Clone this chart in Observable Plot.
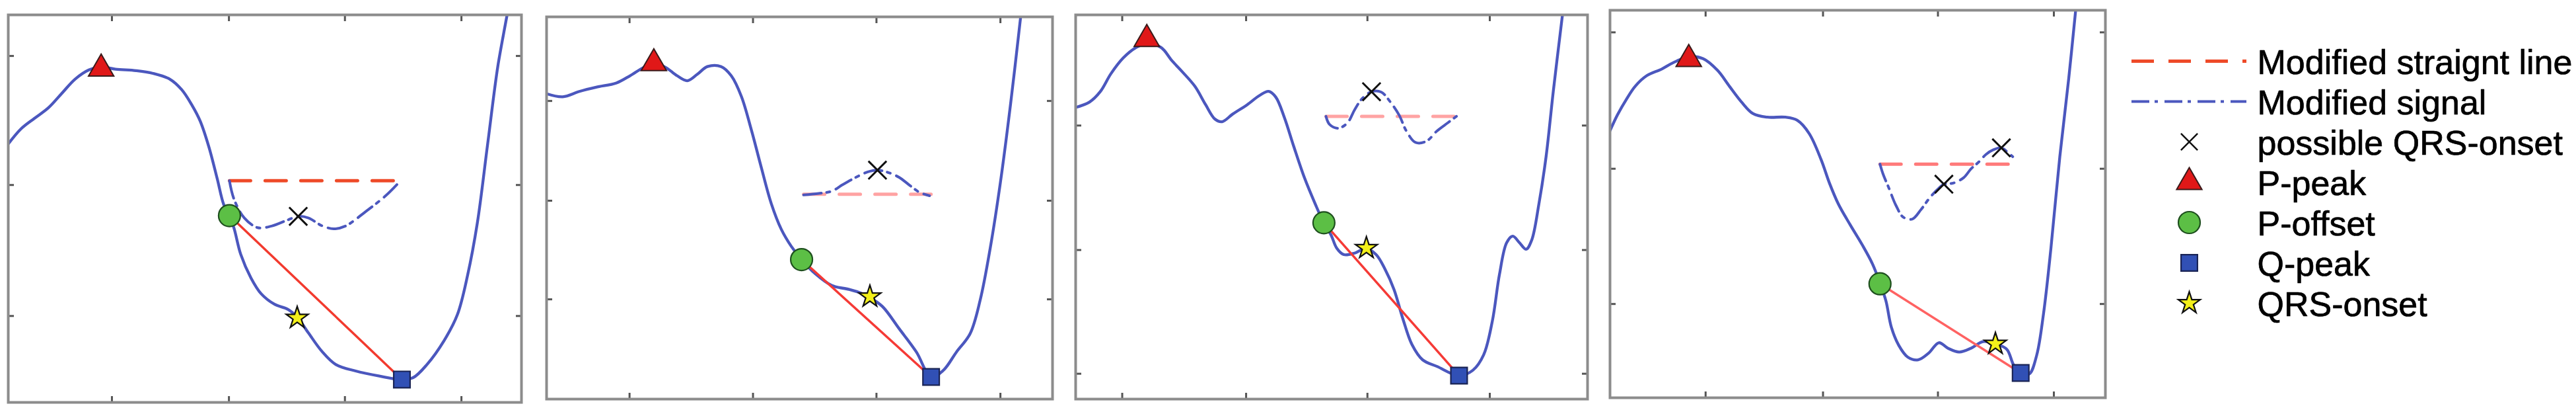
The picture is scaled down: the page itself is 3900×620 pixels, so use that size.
<!DOCTYPE html>
<html><head><meta charset="utf-8">
<script src="https://cdn.jsdelivr.net/npm/d3@7"></script>
<script src="https://cdn.jsdelivr.net/npm/@observablehq/plot@0.6"></script>
<style>
html,body{margin:0;padding:0;background:#fff;}
#root{position:relative;width:3900px;height:620px;overflow:hidden;background:#fff;}
</style></head><body><div id="root"></div>
<script>
// ---------- DATA (normalised 0–100 in each panel: x = sample position, y = amplitude) ----------
const p1Signal = [[0,66.7],[2.5,70.6],[5.1,73.3],[7.8,76.0],[10.4,79.7],[13.0,83.4],[15.7,85.8],[18.1,86.6],[20.9,86.0],[24.9,85.6],[28.2,84.9],[31.5,83.4],[33.8,80.7],[35.8,76.7],[37.4,72.6],[39.1,65.9],[40.7,57.8],[42.0,51.0],[43.1,48.2],[44.0,44.9],[45.3,38.2],[47.3,32.1],[49.3,28.0],[51.9,25.3],[54.5,24.0],[56.3,22.0],[58.5,17.9],[61.1,13.2],[63.8,9.8],[67.7,8.1],[72.3,6.8],[76.6,5.9],[78.9,6.4],[81.6,9.8],[84.9,15.9],[87.5,22.6],[89.5,32.8],[91.4,46.3],[93.4,66.6],[95.4,86.8],[97.2,100]];
const p1Straight = [[43.1,57.2],[76.3,57.2]];
const p1Modified = [[43.1,57.2],[44.0,52.4],[46.0,47.6],[48.6,45.1],[51.3,45.5],[54.5,47.1],[56.5,48.0],[58.5,47.6],[61.1,45.6],[63.4,44.8],[65.7,45.5],[69.7,49.3],[73.6,53.4],[76.3,57.0]];
const p1PPeak = [18.1,86.1], p1POffset = [43.1,48.2], p1QPeak = [76.7,5.9], p1QrsOnset = [56.3,21.8];
const p1Possible = [[56.5,48.0]];
const p1XTicks = [20.2,43.0,65.6,88.3], p1YTicks = [22.3,56.1,89.4];

const p2Signal = [[0,79.9],[3.2,79.1],[6.5,80.5],[9.8,81.6],[13.8,82.7],[16.5,84.6],[19.2,86.8],[21.2,87.9],[23.5,86.8],[25.8,84.6],[27.8,83.3],[29.8,85.0],[31.8,87.0],[34.5,87.0],[36.5,84.6],[38.5,79.2],[40.5,70.3],[42.4,60.8],[44.4,51.2],[46.4,44.4],[48.4,39.9],[50.4,36.5],[53.1,32.8],[56.4,29.7],[59.8,28.7],[62.4,27.6],[63.9,26.6],[66.4,24.2],[69.7,18.4],[73.1,12.3],[76.0,5.8],[78.4,7.5],[81.0,12.3],[83.7,17.1],[85.7,25.9],[87.7,39.6],[89.7,56.7],[91.7,77.1],[93.7,100]];
const p2Straight = [[50.8,53.6],[76.0,53.6]];
const p2Modified = [[50.8,53.4],[53.8,53.8],[56.4,54.4],[58.4,56.0],[61.1,58.0],[63.4,59.4],[65.4,59.9],[67.7,59.2],[69.7,58.0],[71.7,56.0],[73.7,54.1],[75.7,53.2]];
const p2PPeak = [21.2,87.85], p2POffset = [50.4,36.5], p2QPeak = [76.0,5.8], p2QrsOnset = [63.9,26.8];
const p2Possible = [[65.4,59.9]];
const p2XTicks = [16.4,40.8,65.2,89.7], p2YTicks = [26.1,51.9,78.0];

const p3Signal = [[0,75.9],[2.7,77.3],[4.8,80.0],[6.9,84.7],[9.3,88.8],[11.8,91.5],[13.9,92.6],[16.7,91.5],[18.8,88.1],[20.9,85.1],[23.3,81.4],[25.4,76.6],[27.2,72.9],[28.6,72.2],[30.7,74.2],[33.5,76.6],[35.9,79.0],[37.7,80.1],[39.1,78.6],[40.8,73.2],[42.6,65.8],[44.7,57.6],[46.8,50.8],[48.5,45.8],[49.9,42.7],[51.0,39.3],[52.4,37.6],[54.5,38.0],[56.7,39.2],[58.7,37.6],[60.4,33.9],[62.2,28.5],[63.9,21.0],[65.7,14.2],[67.8,10.2],[70.6,8.5],[74.9,6.1],[77.6,7.5],[79.7,11.5],[81.4,20.3],[82.8,32.5],[84.2,40.7],[85.4,42.4],[86.7,40.7],[88.0,39.0],[89.1,41.4],[90.5,50.8],[91.9,63.1],[93.3,80.0],[95.1,100]];
const p3Straight = [[48.9,73.6],[74.4,73.6]];
const p3Modified = [[48.9,73.6],[49.6,71.5],[51.3,70.5],[53.1,71.9],[54.5,75.3],[55.9,78.1],[57.8,80.0],[59.7,79.9],[61.5,77.3],[63.2,73.9],[64.6,69.8],[66.4,66.8],[68.5,67.1],[70.6,69.8],[72.7,71.9],[74.4,73.6]];
const p3PPeak = [13.9,93.7], p3POffset = [48.5,45.9], p3QPeak = [74.9,6.1], p3QrsOnset = [56.8,39.3];
const p3Possible = [[57.8,80.0]];
const p3XTicks = [9.1,33.3,57.0,80.9], p3YTicks = [6.6,38.8,71.2];

const p4Signal = [[0,68.9],[1.5,73.0],[3.3,77.0],[5.1,80.4],[7.4,83.1],[10.4,84.8],[12.8,86.5],[15.9,88.0],[18.8,87.5],[21.7,84.5],[24.1,80.4],[26.5,76.4],[28.9,73.3],[31.8,72.4],[35.4,72.4],[37.8,71.6],[40.2,68.2],[42.6,61.5],[44.3,55.4],[46.1,50.0],[48.5,44.6],[50.9,39.5],[53.0,34.5],[54.5,29.6],[55.7,25.0],[56.8,18.2],[58.3,13.5],[60.1,10.5],[62.2,9.8],[64.3,11.5],[66.4,14.2],[68.2,12.8],[70.5,11.8],[72.9,12.8],[75.3,14.5],[77.8,13.9],[80.1,12.5],[81.5,8.4],[82.9,6.4],[84.6,6.1],[86.1,10.8],[87.5,21.6],[89.0,38.5],[90.8,62.2],[92.6,82.4],[94.0,100]];
const p4Straight = [[54.5,60.3],[81.3,60.3]];
const p4Modified = [[54.5,60.3],[55.1,57.8],[56.3,54.1],[57.7,49.7],[59.2,46.6],[61.0,46.1],[62.8,48.6],[64.6,51.7],[66.4,54.1],[67.4,55.1],[69.3,55.4],[71.4,56.8],[72.9,59.1],[74.4,60.8],[75.9,62.8],[77.4,64.0],[79.0,64.5],[80.4,63.2],[81.3,62.2]];
const p4PPeak = [15.9,87.4], p4POffset = [54.5,29.4], p4QPeak = [82.9,6.4], p4QrsOnset = [77.8,13.9];
const p4Possible = [[67.4,55.1],[79.0,64.5]];
const p4XTicks = [19.3,43.0,66.2,89.6], p4YTicks = [24.2,59.1,94.3];

const legendLabels = ["Modified straignt line","Modified signal","possible QRS-onset","P-peak","P-offset","Q-peak","QRS-onset"];

// ---------- STYLE / LAYOUT ----------
const frames = [
  {left:12, top:22, w:777, h:586},
  {left:827, top:25, w:766, h:578},
  {left:1628, top:22, w:775, h:581},
  {left:2437, top:15, w:750, h:586}
];
const panelStyles = [
  {straight:"#ee4a28", red:"#f23a2e"},
  {straight:"#ffa3a3", red:"#f53a36"},
  {straight:"#ffa3a3", red:"#f53a36"},
  {straight:"#ff7a7a", red:"#ff6262"}
];
const BLUE = "#4b57be";
const sym = {
  pPeak:   {symbol:"triangle", r:14.2, fill:"#e01818", stroke:"#3a1a1a", strokeWidth:2},
  pOffset: {symbol:"circle",   r:16.5, fill:"#5cbf45", stroke:"#1e4f1e", strokeWidth:2.2},
  qPeak:   {symbol:"square",   r:14.0, fill:"#3150b5", stroke:"#1a2455", strokeWidth:2.2},
  onset:   {symbol:"star",     r:10.4, fill:"#f3f01a", stroke:"#111", strokeWidth:2.2},
  possible:{symbol:"times",    r:12.5, fill:"none", stroke:"#111", strokeWidth:3}
};
const straightDash = {strokeWidth:5, strokeDasharray:"32,22"};
const modDash = {stroke:BLUE, strokeWidth:4, strokeDasharray:"27,8,5,10"};

const panels = [
  {signal:p1Signal, straight:p1Straight, modified:p1Modified, pPeak:p1PPeak, pOffset:p1POffset, qPeak:p1QPeak, onset:p1QrsOnset, possible:p1Possible, xTicks:p1XTicks, yTicks:p1YTicks},
  {signal:p2Signal, straight:p2Straight, modified:p2Modified, pPeak:p2PPeak, pOffset:p2POffset, qPeak:p2QPeak, onset:p2QrsOnset, possible:p2Possible, xTicks:p2XTicks, yTicks:p2YTicks},
  {signal:p3Signal, straight:p3Straight, modified:p3Modified, pPeak:p3PPeak, pOffset:p3POffset, qPeak:p3QPeak, onset:p3QrsOnset, possible:p3Possible, xTicks:p3XTicks, yTicks:p3YTicks},
  {signal:p4Signal, straight:p4Straight, modified:p4Modified, pPeak:p4PPeak, pOffset:p4POffset, qPeak:p4QPeak, onset:p4QrsOnset, possible:p4Possible, xTicks:p4XTicks, yTicks:p4YTicks}
];

const root = document.getElementById("root");
const X = d => d[0], Y = d => d[1];
const M = 3;
const tickStyle = {tickSize:-9, stroke:"#555", strokeWidth:3, fill:"none", label:null};

panels.forEach((p, i) => {
  const f = frames[i], st = panelStyles[i];
  const svg = Plot.plot({
    width: f.w + 2*M, height: f.h + 2*M,
    marginLeft: M, marginRight: M, marginTop: M, marginBottom: M,
    x: {domain:[0,100], axis:null},
    y: {domain:[0,100], axis:null},
    style: {background:"transparent", overflow:"visible"},
    marks: [
      Plot.axisX(p.xTicks, {anchor:"bottom", ...tickStyle}),
      Plot.axisX(p.xTicks, {anchor:"top", ...tickStyle}),
      Plot.axisY(p.yTicks, {anchor:"left", ...tickStyle}),
      Plot.axisY(p.yTicks, {anchor:"right", ...tickStyle}),
      Plot.line(p.signal, {x:X, y:Y, stroke:BLUE, strokeWidth:4.3, curve:"catmull-rom", clip:true}),
      Plot.line(p.straight, {x:X, y:Y, stroke:st.straight, ...straightDash}),
      Plot.line(p.modified, {x:X, y:Y, curve:"catmull-rom", ...modDash}),
      Plot.line([p.pOffset, p.qPeak], {x:X, y:Y, stroke:st.red, strokeWidth:3.5}),
      Plot.dot(p.possible, {x:X, y:Y, ...sym.possible}),
      Plot.dot([p.pPeak], {x:X, y:Y, ...sym.pPeak}),
      Plot.dot([p.pOffset], {x:X, y:Y, ...sym.pOffset}),
      Plot.dot([p.qPeak], {x:X, y:Y, ...sym.qPeak}),
      Plot.dot([p.onset], {x:X, y:Y, ...sym.onset}),
      Plot.frame({stroke:"#8c8c8c", strokeWidth:4})
    ]
  });
  svg.style.position = "absolute";
  svg.style.left = (f.left - M) + "px";
  svg.style.top = (f.top - M) + "px";
  root.appendChild(svg);
});

// ---------- LEGEND ----------
const L = d => d;
const font = "Liberation Sans, Arial, Helvetica, sans-serif";
const legend = Plot.plot({
  width: 700, height: 620,
  marginLeft: 27, marginRight: 0, marginTop: 0, marginBottom: 0,
  y: {type:"point", domain: legendLabels, range:[60,490], axis:null},
  style: {background:"transparent", overflow:"visible"},
  marks: [
    Plot.ruleY([legendLabels[0]], {y:L, stroke:"#ee4a28", strokeWidth:5, strokeDasharray:"34,22", insetRight:499}),
    Plot.ruleY([legendLabels[1]], {y:L, ...modDash, insetRight:499}),
    Plot.dot([legendLabels[2]], {y:L, frameAnchor:"left", dx:87, ...sym.possible, r:11.5, strokeWidth:2.5}),
    Plot.dot([legendLabels[3]], {y:L, frameAnchor:"left", dx:87, ...sym.pPeak}),
    Plot.dot([legendLabels[4]], {y:L, frameAnchor:"left", dx:87, ...sym.pOffset}),
    Plot.dot([legendLabels[5]], {y:L, frameAnchor:"left", dx:87, ...sym.qPeak}),
    Plot.dot([legendLabels[6]], {y:L, frameAnchor:"left", dx:87, ...sym.onset}),
    Plot.text(legendLabels, {y:L, text:L, frameAnchor:"left", dx:190, dy:3, textAnchor:"start", fontSize:52, fontFamily:font, fill:"#000", stroke:"#000", strokeWidth:0.7})
  ]
});
legend.style.position = "absolute";
legend.style.left = "3200px";
legend.style.top = "0px";
root.appendChild(legend);
</script>
</body></html>
